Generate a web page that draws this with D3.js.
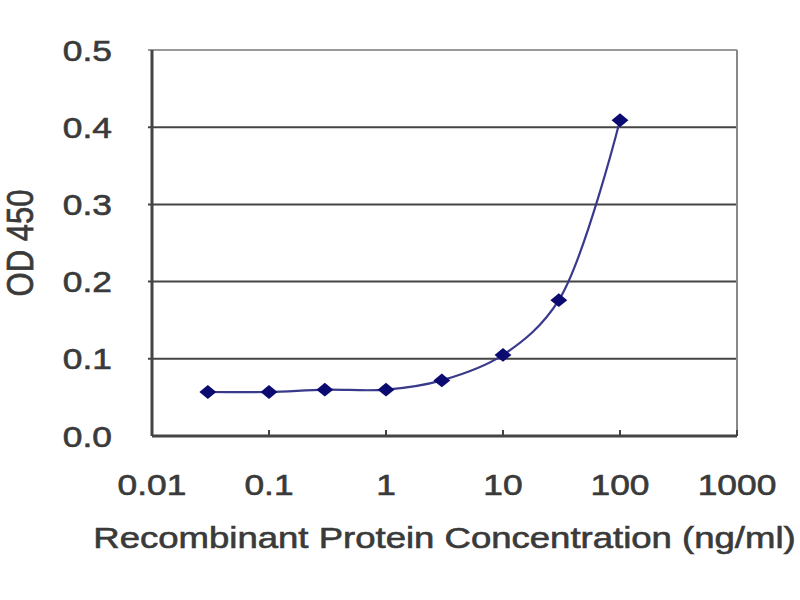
<!DOCTYPE html>
<html>
<head>
<meta charset="utf-8">
<script src="https://cdn.jsdelivr.net/npm/d3@7"></script>
<style>
  body { margin: 0; background: #fff; }
  text { font-family: Arial, "Liberation Sans", sans-serif; fill: #3a3a3a; stroke: #3a3a3a; stroke-width: 0.6px; }
</style>
</head>
<body>
<div id="chart"></div>
<script>
// concentrations (ng/ml) and OD 450 readings
const concentrations = [0.03, 0.1, 0.3, 1, 3, 10, 30, 100];
const odValues = [0.057, 0.057, 0.060, 0.060, 0.072, 0.105, 0.176, 0.409];
const xTicks = [0.01, 0.1, 1, 10, 100, 1000];
const xTickLabels = ["0.01", "0.1", "1", "10", "100", "1000"];
const yTicks = [0, 0.1, 0.2, 0.3, 0.4, 0.5];
const yTickLabels = ["0.0", "0.1", "0.2", "0.3", "0.4", "0.5"];

const W = 800, H = 600;
const margin = { top: 50, right: 63, bottom: 164, left: 152 };
const width = W - margin.left - margin.right;
const height = H - margin.top - margin.bottom;
const sx = 1.22; // text looks horizontally stretched

const svg = d3.select("#chart").append("svg")
  .attr("width", W).attr("height", H);

const g = svg.append("g")
  .attr("transform", `translate(${margin.left},${margin.top})`);

const x = d3.scaleLog().domain([0.01, 1000]).range([0, width]);
const y = d3.scaleLinear().domain([0, 0.5]).range([height, 0]);

// gridlines
g.selectAll(".grid")
  .data(yTicks.slice(1))
  .enter().append("line")
  .attr("x1", -4).attr("x2", width)
  .attr("y1", d => y(d)).attr("y2", d => y(d))
  .attr("stroke", d => d === 0.5 ? "#999" : "#444")
  .attr("stroke-width", 2);

// right border
g.append("line")
  .attr("x1", width).attr("x2", width)
  .attr("y1", 0).attr("y2", height)
  .attr("stroke", "#888").attr("stroke-width", 2);

// x ticks (inside, going up)
g.selectAll(".xtick")
  .data(xTicks)
  .enter().append("line")
  .attr("x1", d => x(d)).attr("x2", d => x(d))
  .attr("y1", height).attr("y2", height - 6)
  .attr("stroke", "#444").attr("stroke-width", 2);

// axes lines
g.append("line")
  .attr("x1", 0).attr("x2", 0).attr("y1", 0).attr("y2", height)
  .attr("stroke", "#444").attr("stroke-width", 3);
g.append("line")
  .attr("x1", 0).attr("x2", width).attr("y1", height).attr("y2", height)
  .attr("stroke", "#444").attr("stroke-width", 3);

// tick labels
g.selectAll(".ylab")
  .data(yTicks)
  .enter().append("text")
  .attr("transform", d => `translate(-40,${y(d) + 10.5}) scale(${sx},1)`)
  .attr("text-anchor", "end")
  .style("font-size", "29px")
  .text((d, i) => yTickLabels[i]);

g.selectAll(".xlab")
  .data(xTicks)
  .enter().append("text")
  .attr("transform", d => `translate(${x(d)},${height + 59}) scale(${sx},1)`)
  .attr("text-anchor", "middle")
  .style("font-size", "29px")
  .text((d, i) => xTickLabels[i]);

// axis titles
g.append("text")
  .attr("transform", `translate(${width / 2},${height + 112}) scale(1.26,1)`)
  .attr("text-anchor", "middle")
  .style("font-size", "29px")
  .text("Recombinant Protein Concentration (ng/ml)");

g.append("text")
  .attr("transform", `translate(${33 - margin.left},${height / 2}) scale(${sx},1) rotate(-90)`)
  .attr("text-anchor", "middle")
  .style("font-size", "31px")
  .text("OD 450");

// data
const data = concentrations.map((c, i) => ({ c, v: odValues[i] }));

const line = d3.line()
  .x(d => x(d.c))
  .y(d => y(d.v))
  .curve(d3.curveCatmullRom.alpha(0.5));

g.append("path")
  .datum(data)
  .attr("d", line)
  .attr("fill", "none")
  .attr("stroke", "#3a3a8c")
  .attr("stroke-width", 2.2);

g.selectAll(".pt")
  .data(data)
  .enter().append("path")
  .attr("d", d3.symbol().type(d3.symbolDiamond2).size(150))
  .attr("transform", d => `translate(${x(d.c)},${y(d.v)}) scale(1.1,0.9)`)
  .attr("fill", "#0a0a70");
</script>
</body>
</html>
